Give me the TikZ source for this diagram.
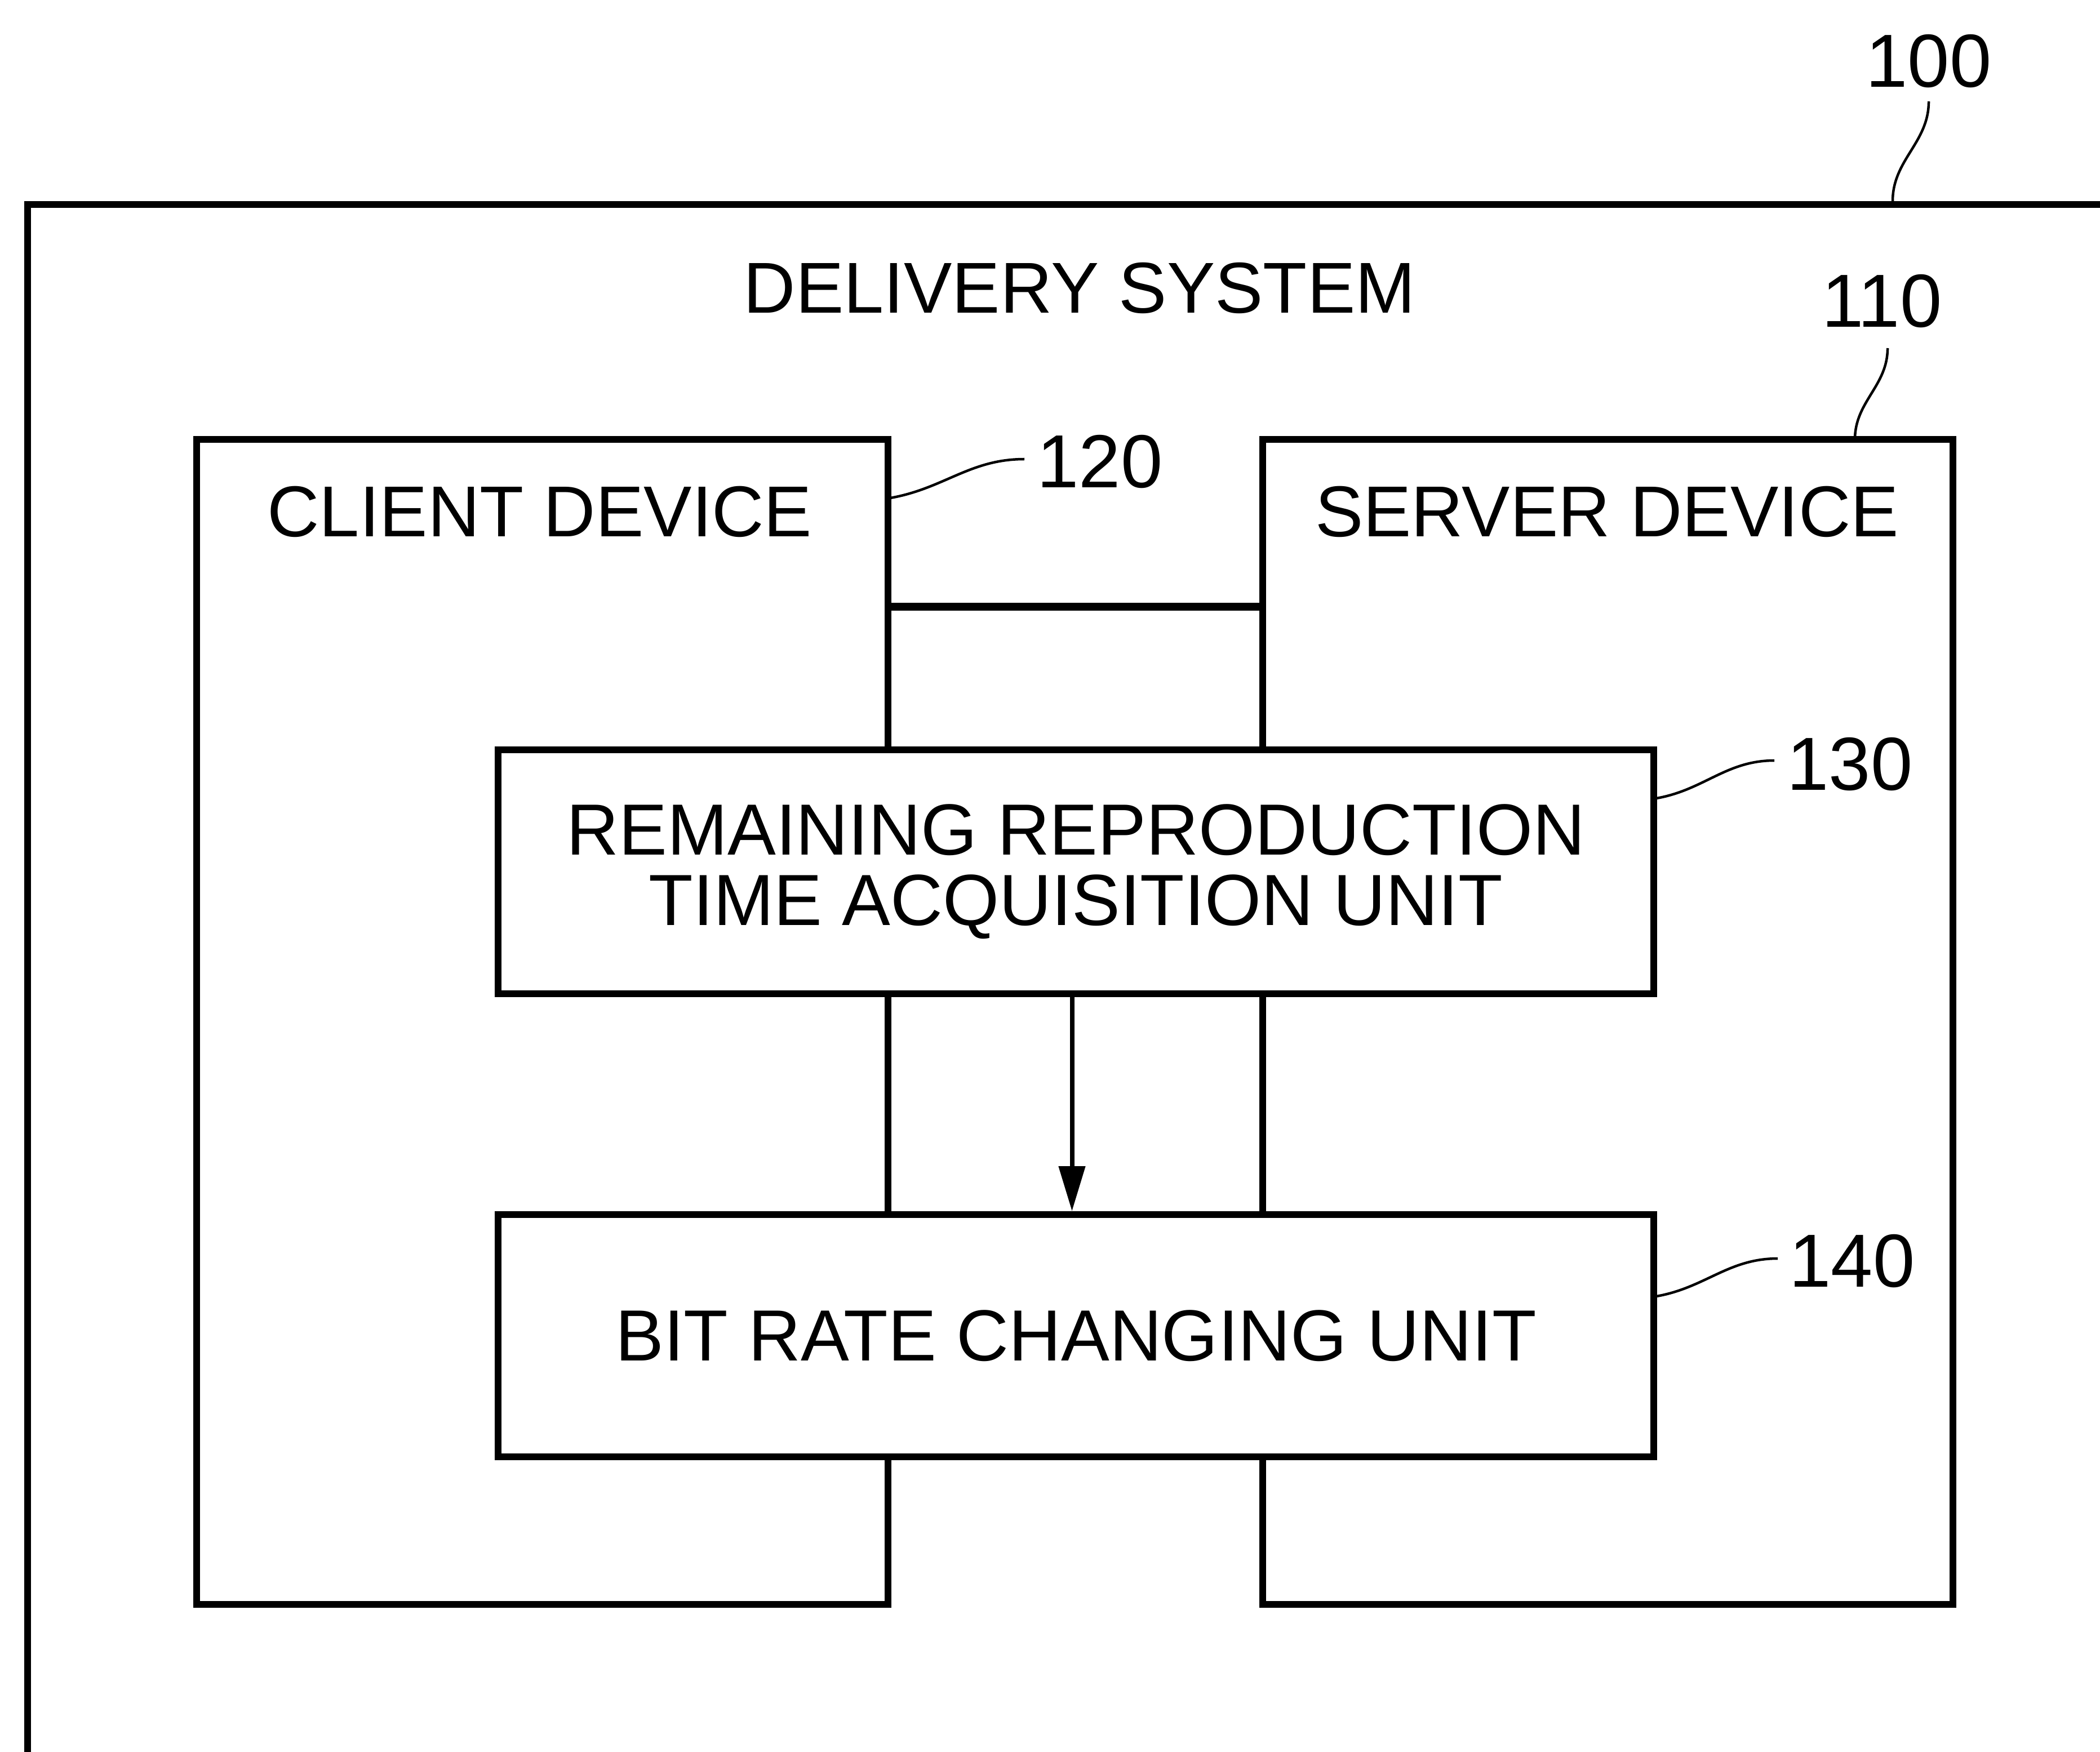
\documentclass[tikz,border=0pt]{standalone}
\usepackage{fontspec}
\setmainfont{Liberation Sans}
\usetikzlibrary{arrows.meta}

\tikzset{
  frame/.style={draw, line width=0.12cm},
  devbox/.style={draw, line width=0.12cm, rectangle, inner sep=0pt},
  unitbox/.style={draw, fill=white, line width=0.12cm, rectangle, inner sep=0pt,
                  align=center, font=\fontsize{36.6}{35.7}\selectfont},
  caption/.style={font=\fontsize{36.4}{36}\selectfont, inner sep=0pt},
  refnum/.style={font=\fontsize{38}{38}\selectfont, inner sep=0pt},
  leader/.style={line width=0.045cm},
  link/.style={line width=0.14cm},
  flow/.style={line width=0.08cm, -{Triangle[length=0.8cm,width=0.46cm]}}
}

\begin{document}
\begin{tikzpicture}
\useasboundingbox (0,0) rectangle (37.27,-31.10);
\clip (0,0) rectangle (37.27,-31.10);

% delivery system frame (runs past the right and bottom edges)
\node[frame, rectangle, inner sep=0pt, minimum width=38cm, minimum height=27.7cm, anchor=north west] (system) at (0.43,-3.57) {};
\node[caption] (systitle) at (19.16,-5.11) {DELIVERY SYSTEM};

% client and server devices
\node[devbox, minimum width=12.27cm, minimum height=20.68cm] (client) at (9.625,-18.14) {};
\node[devbox, minimum width=12.25cm, minimum height=20.68cm] (server) at (28.535,-18.14) {};
\node[caption] (clienttitle) at (9.58,-9.08) {CLIENT DEVICE};
\node[caption] (servertitle) at (28.52,-9.08) {SERVER DEVICE};

% network link between the devices
\coordinate (linky) at (0,-10.77);
\draw[link] (client.east |- linky) -- (server.west |- linky);

% functional units
\node[unitbox, minimum width=20.51cm, minimum height=4.33cm] (acq) at (19.095,-15.475)
  {REMAINING REPRODUCTION\\TIME ACQUISITION UNIT};
\node[unitbox, minimum width=20.51cm, minimum height=4.30cm] (rate) at (19.095,-23.71)
  {BIT RATE CHANGING UNIT};

\draw[flow] ([xshift=-0.07cm]acq.south) -- ([xshift=-0.07cm]rate.north);

% reference numerals
\node[refnum] (n100) at (34.23,-1.09) {100};
\node[refnum] (n110) at (33.40,-5.35) {110};
\node[refnum] (n120) at (19.52,-8.20) {120};
\node[refnum] (n130) at (32.83,-13.57) {130};
\node[refnum] (n140) at (32.87,-22.39) {140};

\coordinate (t100) at (33.59,-3.57);
\coordinate (e100) at (34.23,-1.80);
\coordinate (t110) at (32.92,-7.80);
\coordinate (e110) at (33.50,-6.18);
\coordinate (t120) at (15.80,-8.84);
\coordinate (e120) at (18.18,-8.15);
\coordinate (t130) at (29.40,-14.17);
\coordinate (e130) at (31.49,-13.50);
\coordinate (t140) at (29.40,-23.01);
\coordinate (e140) at (31.55,-22.34);

\draw[leader] (t100) to[out=90,in=-90] (e100);
\draw[leader] (t110) to[out=90,in=-90] (e110);
\draw[leader] (t120) to[out=10,in=180] (e120);
\draw[leader] (t130) to[out=10,in=180] (e130);
\draw[leader] (t140) to[out=10,in=180] (e140);
\end{tikzpicture}
\end{document}
